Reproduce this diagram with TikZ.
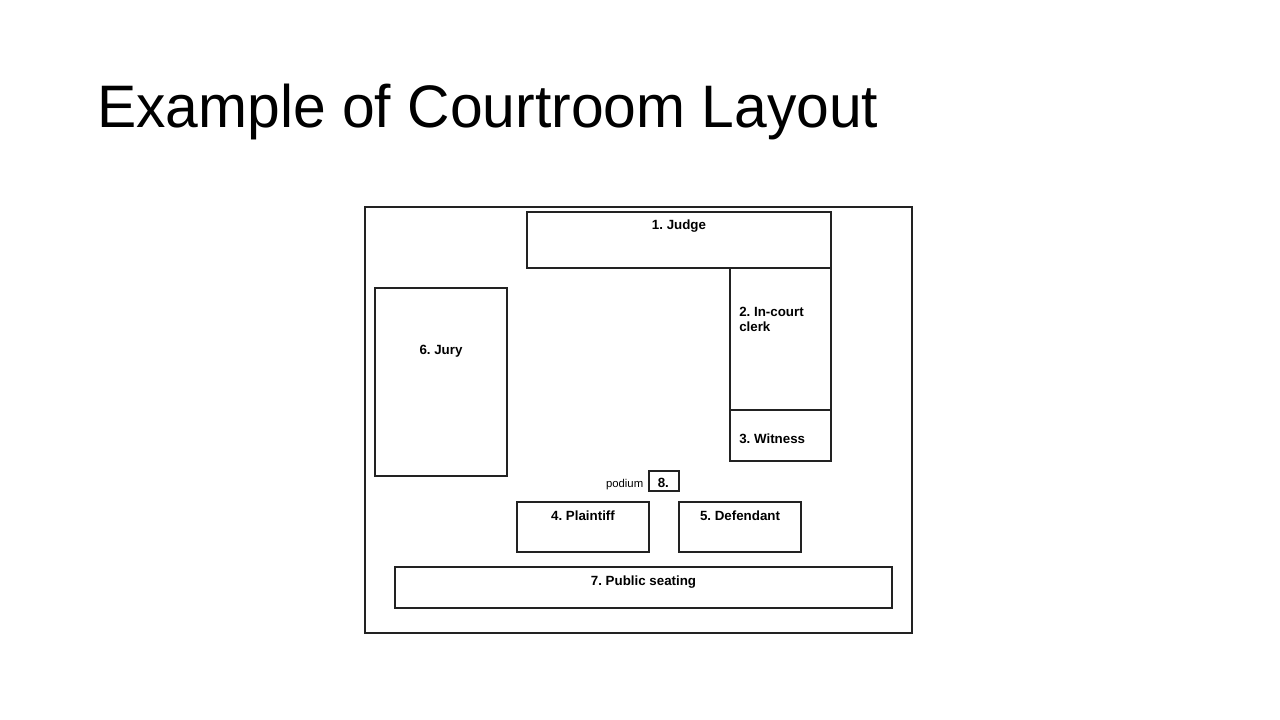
\documentclass[tikz,border=0pt]{standalone}
\usepackage{fontspec}
\setmainfont{Liberation Sans}
\usetikzlibrary{positioning}
\definecolor{wall}{HTML}{222222}
\frenchspacing
\tikzset{
room/.style = { draw = wall, line width = 1.1pt },
desk/.style = { draw = wall, line width = 1.1pt },
desk label/.style = { black, inner sep = 0pt, font = \bfseries\fontsize{10}{11.25}\selectfont },
small label/.style = { black, inner sep = 0pt, font = \fontsize{8.5}{10}\selectfont },
}

\begin{document}
\begin{tikzpicture}[x = 0.75pt, y = -0.75pt]
      \useasboundingbox (0, 0) rectangle (1280, 720);
      \node[anchor = base west, inner sep = 0pt, font = \fontsize{45}{54}\selectfont] (title) at (97, 128) {\scalebox{0.98}[1]{Example of Courtroom Layout}};
      % room
      \draw[room] (365, 207) rectangle (912, 633);
      % bench side
      \draw[desk] (527, 212) rectangle (831, 268);
      \draw[desk] (730, 268) rectangle (831, 410);
      \draw[desk] (730, 410) rectangle (831, 461);
      \draw[desk] (375, 288) rectangle (507, 476);
      \node[desk label, anchor = base] (judge) at (679, 229.5) {1. Judge};
      \node[desk label, anchor = base west] (clerk) at (739, 316.5) {2. In-court};
      \node[desk label, anchor = base west] (clerk2) at ([yshift = -11.25pt]clerk.base west) {clerk};
      \node[desk label, anchor = base west] (witness) at (739, 443) {3. Witness};
      \node[desk label, anchor = base] (jury) at (441, 354) {6. Jury};
      % floor
      \draw[desk] (649, 471) rectangle (679, 491);
      \node[desk label, anchor = base west] (podium) at (657.5, 487.5) {8.};
      \node[small label, anchor = base east] (podium text) at (643.5, 487) {podium};
      \draw[desk] (517, 502) rectangle (649, 552);
      \draw[desk] (679, 502) rectangle (801, 552);
      \draw[desk] (395, 567) rectangle (892, 608);
      \node[desk label, anchor = base] (plaintiff) at (583, 520) {4. Plaintiff};
      \node[desk label, anchor = base] (defendant) at (740, 520) {5. Defendant};
      \node[desk label, anchor = base] (public) at (643.5, 585) {7. Public seating};
    \end{tikzpicture}
\end{document}
